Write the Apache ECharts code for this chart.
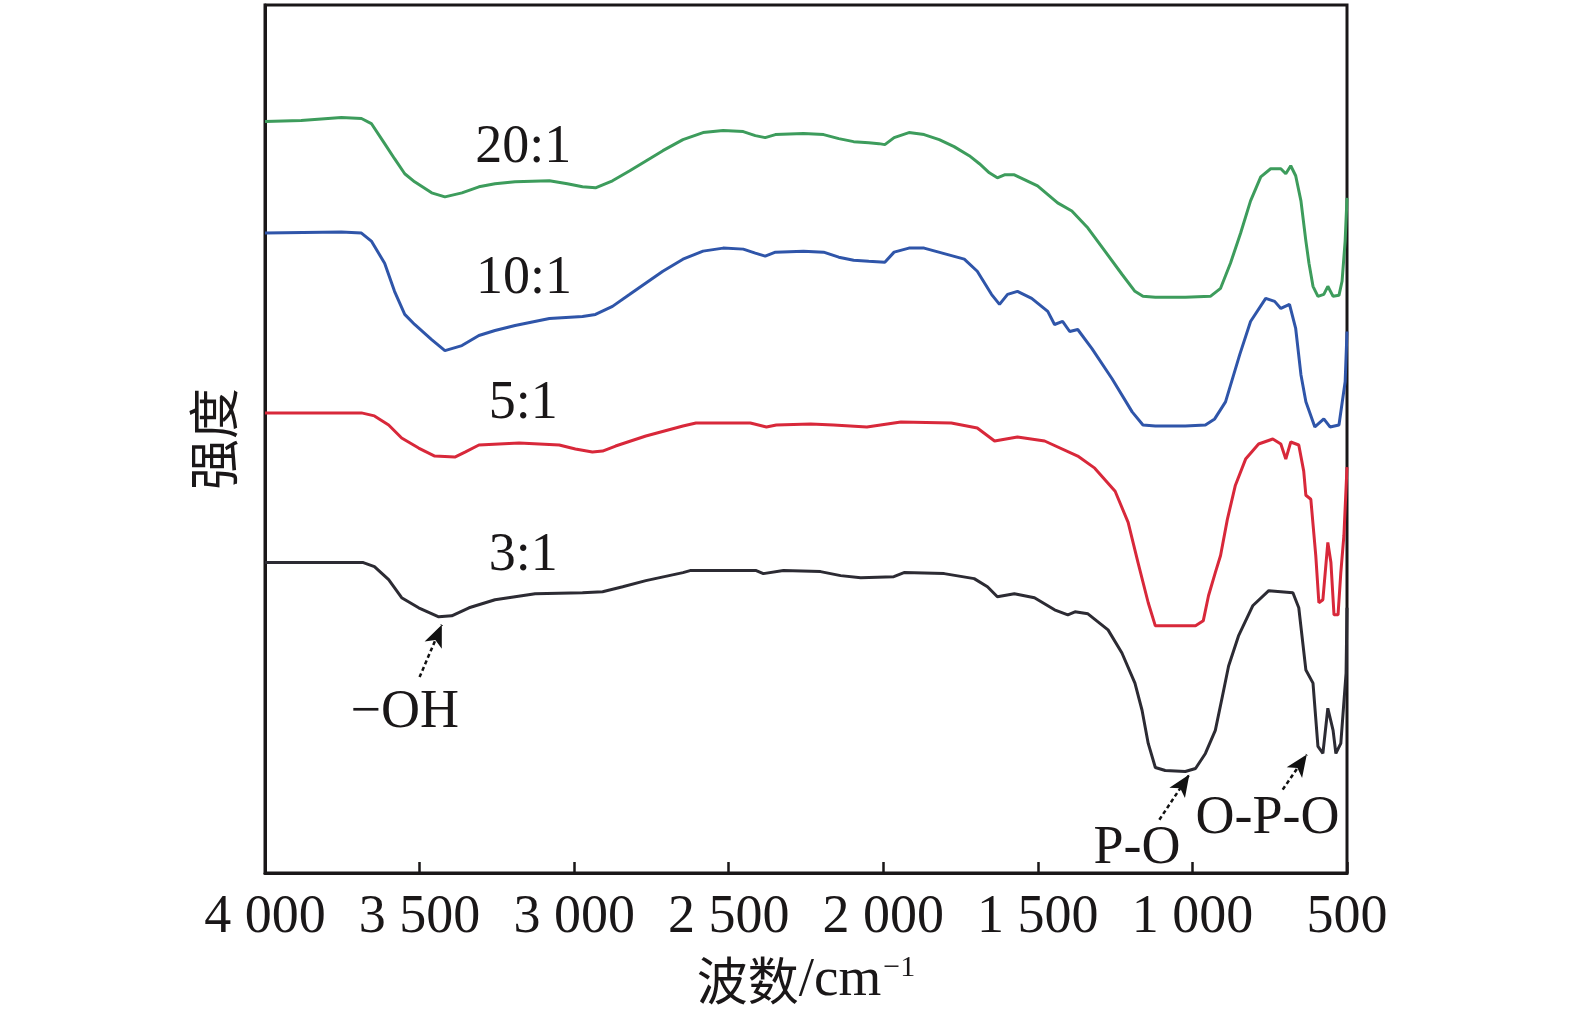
<!DOCTYPE html>
<html>
<head>
<meta charset="utf-8">
<title>FTIR</title>
<script src="https://cdn.jsdelivr.net/npm/echarts@6/dist/echarts.min.js"></script>
<style>
  html, body { margin: 0; padding: 0; background: #fff; overflow: hidden; }
  #chart { width: 1575px; height: 1024px; }
</style>
</head>
<body>
<div id="chart"></div>
<script>
// wavenumber (cm-1), intensity (a.u.)
const ratio20 = [
  [4000, 748], [3883, 749], [3753, 752], [3688, 751], [3656, 746], [3613, 726], [3581, 711],
  [3548, 696], [3516, 688], [3461, 677], [3418, 673], [3363, 677], [3308, 683], [3256, 686],
  [3191, 688], [3080, 689], [3022, 686], [2973, 683], [2931, 682], [2876, 689], [2820, 699],
  [2713, 719], [2648, 730], [2583, 737], [2518, 739], [2453, 738], [2414, 734], [2382, 732],
  [2349, 735], [2258, 736], [2193, 735], [2144, 731], [2096, 728], [2047, 727], [2014, 726],
  [1995, 725], [1965, 732], [1917, 737], [1868, 735], [1819, 730], [1771, 723], [1722, 714],
  [1689, 706], [1657, 697], [1631, 692], [1608, 695], [1576, 695], [1501, 684], [1436, 667],
  [1390, 659], [1338, 642], [1283, 619], [1228, 596], [1186, 579], [1160, 574], [1120, 573],
  [1023, 573], [942, 574], [909, 582], [877, 607], [844, 637], [812, 669], [779, 693],
  [747, 701], [714, 701], [698, 696], [682, 704], [666, 694], [649, 669], [633, 629],
  [623, 607], [610, 584], [594, 574], [575, 576], [562, 584], [545, 574], [526, 575],
  [516, 589], [506, 629], [500, 672]
];
const ratio10 = [
  [4000, 637], [3753, 638], [3688, 637], [3656, 629], [3613, 607], [3581, 579], [3548, 556],
  [3516, 546], [3461, 531], [3418, 520], [3363, 525], [3308, 535], [3256, 540], [3191, 545],
  [3080, 552], [2973, 554], [2931, 556], [2876, 564], [2820, 576], [2713, 599], [2648, 611],
  [2583, 619], [2518, 622], [2453, 621], [2414, 617], [2382, 614], [2349, 618], [2258, 619],
  [2193, 618], [2144, 613], [2096, 610], [2047, 609], [1995, 608], [1965, 618], [1917, 622],
  [1868, 622], [1738, 611], [1696, 599], [1650, 576], [1624, 566], [1598, 576], [1566, 579],
  [1520, 572], [1468, 559], [1446, 546], [1420, 549], [1397, 539], [1371, 541], [1325, 522],
  [1260, 492], [1195, 459], [1160, 446], [1120, 445], [1023, 445], [958, 446], [928, 452],
  [893, 469], [847, 516], [812, 549], [763, 572], [734, 569], [714, 562], [686, 566],
  [666, 542], [649, 496], [633, 469], [604, 444], [575, 452], [555, 444], [526, 446],
  [506, 489], [500, 539]
];
const ratio5 = [
  [4000, 458], [3688, 458], [3646, 455], [3600, 446], [3558, 433], [3503, 423], [3451, 415],
  [3386, 414], [3353, 419], [3308, 426], [3178, 428], [3048, 426], [2996, 422], [2941, 419],
  [2908, 420], [2866, 425], [2768, 435], [2648, 445], [2606, 448], [2430, 448], [2378, 444],
  [2346, 446], [2235, 447], [2161, 446], [2053, 444], [1943, 449], [1780, 448], [1696, 443],
  [1640, 430], [1566, 434], [1478, 430], [1371, 415], [1316, 403], [1250, 380], [1208, 349],
  [1176, 309], [1143, 269], [1120, 246], [1078, 246], [990, 246], [965, 251], [948, 276],
  [926, 299], [909, 316], [887, 352], [861, 386], [828, 412], [786, 427], [740, 432],
  [714, 427], [698, 412], [682, 429], [656, 426], [640, 400], [633, 376], [617, 372], [601, 316],
  [591, 269], [578, 272], [562, 329], [552, 309], [542, 257], [529, 257], [520, 299],
  [510, 336], [500, 404]
];
const ratio3 = [
  [4000, 309], [3682, 309], [3646, 305], [3600, 292], [3558, 274], [3503, 264], [3438, 255],
  [3396, 256], [3340, 264], [3256, 272], [3126, 278], [2973, 279], [2908, 280], [2843, 285],
  [2768, 291], [2648, 299], [2625, 301], [2411, 301], [2388, 298], [2323, 301], [2203, 300],
  [2138, 296], [2073, 294], [1966, 295], [1933, 299], [1803, 298], [1706, 293], [1663, 285],
  [1631, 275], [1576, 278], [1511, 274], [1446, 262], [1403, 257], [1380, 260], [1338, 258],
  [1273, 242], [1228, 219], [1186, 189], [1163, 162], [1143, 129], [1120, 105], [1088, 102],
  [1023, 101], [990, 104], [958, 119], [926, 142], [903, 176], [883, 206], [851, 236],
  [805, 266], [753, 281], [675, 279], [656, 264], [633, 202], [610, 189], [594, 126],
  [578, 119], [562, 164], [545, 142], [536, 119], [520, 129], [503, 199], [500, 264]
];

const seriesNames = ['20:1', '10:1', '5:1', '3:1'];
const seriesData = [ratio20, ratio10, ratio5, ratio3];
const seriesColors = ['#3d9c5c', '#2f55a9', '#d8283a', '#2c2b33'];

const xTicks = [4000, 3500, 3000, 2500, 2000, 1500, 1000, 500];

// annotation text: [wavenumber, intensity, text]
const labelItems = [
  [3165, 722, '20:1'], [3162, 591, '10:1'], [3165, 467, '5:1'], [3165, 316, '3:1'],
  [3548, 159, '\u2212OH'], [1179, 24, 'P-O'], [757, 54, 'O-P-O']
];
// arrows: [from, to]
const arrowItems = [
  [[3500, 195], [3428, 247]],
  [[1107, 53], [1010, 98]],
  [[708, 83], [630, 118]]
];

const serif = '"Liberation Serif", "Times New Roman", "Noto Sans CJK SC", serif';
const cjk = '"Noto Sans CJK SC", "Liberation Serif", serif';
const ink = '#1a1718';

function tickText(v) {
  if (v >= 1000) return Math.floor(v / 1000) + ' ' + String(v % 1000).padStart(3, '0');
  return String(v);
}

const chart = echarts.init(document.getElementById('chart'), null, { renderer: 'canvas' });

const lines = seriesData.map((d, i) => ({
  name: seriesNames[i],
  type: 'line',
  data: d,
  showSymbol: false,
  symbol: 'none',
  lineStyle: { color: seriesColors[i], width: 3 },
  z: 3
}));

lines.push({
  name: 'labels',
  type: 'scatter',
  data: labelItems,
  symbolSize: 0,
  itemStyle: { opacity: 1 },
  label: {
    show: true,
    position: 'inside',
    formatter: p => p.data[2],
    color: ink,
    opacity: 1,
    fontFamily: serif,
    fontSize: 54
  },
  z: 4
});

lines.push({
  name: 'arrows',
  type: 'line',
  data: [],
  markLine: {
    silent: true,
    symbol: ['none', 'arrow'],
    symbolSize: [14, 22],
    label: { show: false },
    lineStyle: { color: '#111', width: 2.5, type: [4, 3], opacity: 1 },
    data: arrowItems.map(a => [{ coord: a[0] }, { coord: a[1] }])
  }
});

chart.setOption({
  animation: false,
  backgroundColor: '#fff',
  grid: {
    left: 265, right: 228, top: 5, bottom: 151,
    show: true, borderColor: ink, borderWidth: 3, backgroundColor: 'transparent'
  },
  xAxis: {
    type: 'value',
    min: 500,
    max: 4000,
    interval: 500,
    inverse: true,
    name: '{cn|波数}{en|/cm}{sup|\u22121}',
    nameLocation: 'middle',
    nameGap: 80,
    nameTextStyle: {
      rich: {
        cn: { fontFamily: cjk, fontSize: 51, color: ink },
        en: { fontFamily: serif, fontSize: 55, color: ink },
        sup: { fontFamily: serif, fontSize: 30, color: ink, verticalAlign: 'top', padding: [0, 0, 24, 2] }
      }
    },
    axisLine: { show: true, lineStyle: { color: ink, width: 3 } },
    axisTick: { show: true, inside: true, length: 11, lineStyle: { color: ink, width: 2.5 } },
    axisLabel: {
      color: ink, fontFamily: serif, fontSize: 54, margin: 18,
      formatter: v => (xTicks.indexOf(v) >= 0 ? tickText(v) : '')
    },
    splitLine: { show: false }
  },
  yAxis: {
    type: 'value',
    min: 0,
    max: 864,
    name: '强度',
    nameLocation: 'middle',
    nameGap: 26,
    nameRotate: 90,
    nameTextStyle: { fontFamily: cjk, fontSize: 51, color: ink },
    axisLine: { show: true, lineStyle: { color: ink, width: 3 } },
    axisTick: { show: false },
    axisLabel: { show: false },
    splitLine: { show: false }
  },
  series: lines
});
</script>
</body>
</html>
